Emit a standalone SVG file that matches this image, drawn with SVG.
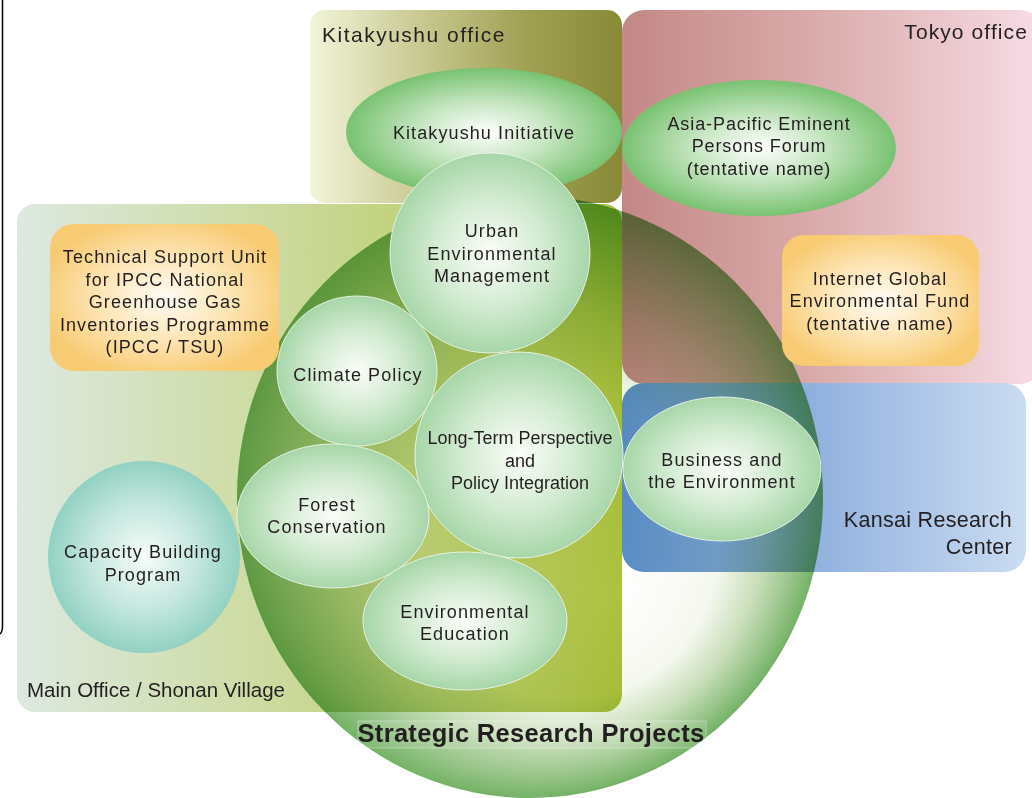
<svg xmlns="http://www.w3.org/2000/svg" width="1032" height="798" viewBox="0 0 1032 798">
<style>
text{font-family:"Liberation Sans",Arial,sans-serif;fill:#231f20}
.t{font-size:18px;letter-spacing:1.1px;text-anchor:middle}
.c{font-size:18px;letter-spacing:0px;text-anchor:middle}
.h{font-size:21px}
.big{mix-blend-mode:multiply}
</style>
<defs>
<linearGradient id="gKit" x1="0" y1="0" x2="1" y2="0">
<stop offset="0" stop-color="#f1f5d9"/><stop offset="0.35" stop-color="#c9c992"/><stop offset="0.7" stop-color="#9fa052"/><stop offset="1" stop-color="#898a37"/>
</linearGradient>
<linearGradient id="gTok" x1="0" y1="0" x2="1" y2="0">
<stop offset="0" stop-color="#c38886"/><stop offset="0.45" stop-color="#d9aaa9"/><stop offset="1" stop-color="#f7dce5"/>
</linearGradient>
<linearGradient id="gKan" x1="0" y1="0" x2="1" y2="0">
<stop offset="0" stop-color="#5a8ec8"/><stop offset="0.5" stop-color="#93b3e0"/><stop offset="1" stop-color="#cadcf1"/>
</linearGradient>
<linearGradient id="gMain" x1="0" y1="0" x2="1" y2="0">
<stop offset="0" stop-color="#dde9e0"/><stop offset="0.4" stop-color="#cddba2"/><stop offset="0.7" stop-color="#bed072"/><stop offset="1" stop-color="#adc23d"/>
</linearGradient>
<radialGradient id="gBig" cx="0.5" cy="0.5" r="0.5" fx="0.64" fy="0.67">
<stop offset="0" stop-color="#ffffff"/><stop offset="0.5" stop-color="#f5f8ef"/><stop offset="0.72" stop-color="#cadfbb"/><stop offset="0.9" stop-color="#95c386"/><stop offset="1" stop-color="#74b266"/>
</radialGradient>
<radialGradient id="gTop" cx="0.5" cy="0.5" r="0.5">
<stop offset="0" stop-color="#ffffff"/><stop offset="0.5" stop-color="#c2e4bd"/><stop offset="1" stop-color="#78c271"/>
</radialGradient>
<radialGradient id="gIn" cx="0.5" cy="0.5" r="0.5">
<stop offset="0" stop-color="#fbfdf9"/><stop offset="0.55" stop-color="#d2ebd1"/><stop offset="1" stop-color="#a7d6a8"/>
</radialGradient>
<radialGradient id="gOr" cx="0.5" cy="0.5" r="0.55">
<stop offset="0" stop-color="#fffdf6"/><stop offset="0.5" stop-color="#fde6b8"/><stop offset="1" stop-color="#f8cb73"/>
</radialGradient>
<radialGradient id="gCap" cx="0.5" cy="0.5" r="0.5">
<stop offset="0" stop-color="#f7fcfa"/><stop offset="0.55" stop-color="#c4e7de"/><stop offset="1" stop-color="#92d1c2"/>
</radialGradient>
</defs>

<path d="M2.5,0 V626 Q2.5,632 0,634" fill="none" stroke="#000" stroke-width="1.5"/>

<g id="kitakyushu-office">
<rect x="310" y="10" width="312" height="193" rx="15" fill="url(#gKit)"/>
<text class="h" x="322" y="42" style="letter-spacing:1.5px">Kitakyushu office</text>
</g>
<g id="tokyo-office">
<rect x="622" y="10" width="420" height="374" rx="22" fill="url(#gTok)"/>
<text class="h" x="1028" y="39" style="letter-spacing:1.1px;text-anchor:end">Tokyo office</text>
</g>
<g id="kansai-center">
<rect x="622" y="383" width="404" height="189" rx="22" fill="url(#gKan)"/>
<text class="h" x="1012" y="527" style="font-size:21.5px;letter-spacing:0.3px;text-anchor:end">Kansai Research</text>
<text class="h" x="1012" y="554" style="font-size:21.5px;letter-spacing:0.3px;text-anchor:end">Center</text>
</g>
<g id="main-office">
<rect x="17" y="204" width="605" height="508" rx="18" fill="url(#gMain)"/>
<text class="h" x="27" y="697" style="font-size:20.5px">Main Office / Shonan Village</text>
</g>

<g id="strategic-research-projects">
<ellipse class="big" cx="530" cy="497" rx="293" ry="301" fill="url(#gBig)"/>
<rect x="358" y="721" width="348" height="27" fill="#ffffff" fill-opacity="0.1" stroke="#ffffff" stroke-opacity="0.35"/>
<text x="531" y="742" style="font-size:25.5px;font-weight:bold;letter-spacing:0.3px;text-anchor:middle">Strategic Research Projects</text>
</g>

<g id="connectors"></g>

<g id="kitakyushu-initiative">
<ellipse cx="484" cy="132" rx="138" ry="64" fill="url(#gTop)"/>
<text class="t" x="484" y="139">Kitakyushu Initiative</text>
</g>
<g id="asia-pacific-forum">
<ellipse cx="759" cy="148" rx="137" ry="68" fill="url(#gTop)"/>
<text class="t" x="759" y="130" style="letter-spacing:0.9px">Asia-Pacific Eminent</text>
<text class="t" x="759" y="152" style="letter-spacing:0.9px">Persons Forum</text>
<text class="t" x="759" y="175" style="letter-spacing:0.9px">(tentative name)</text>
</g>
<g id="internet-fund">
<rect x="782" y="235" width="197" height="131" rx="22" fill="url(#gOr)"/>
<text class="t" x="880" y="285">Internet Global</text>
<text class="t" x="880" y="307">Environmental Fund</text>
<text class="t" x="880" y="330">(tentative name)</text>
</g>
<g id="ipcc-tsu">
<rect x="50" y="224" width="229" height="147" rx="24" fill="url(#gOr)"/>
<text class="t" x="165" y="263">Technical Support Unit</text>
<text class="t" x="165" y="286">for IPCC National</text>
<text class="t" x="165" y="308">Greenhouse Gas</text>
<text class="t" x="165" y="331">Inventories Programme</text>
<text class="t" x="165" y="353">(IPCC / TSU)</text>
</g>
<g id="capacity-building">
<circle cx="144" cy="557" r="96" fill="url(#gCap)"/>
<text class="t" x="143" y="558">Capacity Building</text>
<text class="t" x="143" y="581">Program</text>
</g>
<g id="climate-policy">
<ellipse cx="357" cy="371" rx="80" ry="75" fill="url(#gIn)" stroke="#e6f3e4" stroke-width="1"/>
<text class="t" x="358" y="381">Climate Policy</text>
</g>
<g id="urban-environmental-management">
<circle cx="490" cy="253" r="100" fill="url(#gIn)" stroke="#e6f3e4" stroke-width="1"/>
<text class="t" x="492" y="237">Urban</text>
<text class="t" x="492" y="260">Environmental</text>
<text class="t" x="492" y="282">Management</text>
</g>
<g id="long-term-perspective">
<ellipse cx="519" cy="455" rx="104" ry="103" fill="url(#gIn)" stroke="#e6f3e4" stroke-width="1"/>
<text class="c" x="520" y="444">Long-Term Perspective</text>
<text class="c" x="520" y="467">and</text>
<text class="c" x="520" y="489">Policy Integration</text>
</g>
<g id="forest-conservation">
<ellipse cx="333" cy="516" rx="96" ry="72" fill="url(#gIn)" stroke="#e6f3e4" stroke-width="1"/>
<text class="t" x="327" y="511">Forest</text>
<text class="t" x="327" y="533">Conservation</text>
</g>
<g id="environmental-education">
<ellipse cx="465" cy="621" rx="102" ry="69" fill="url(#gIn)" stroke="#e6f3e4" stroke-width="1"/>
<text class="t" x="465" y="618">Environmental</text>
<text class="t" x="465" y="640">Education</text>
</g>
<g id="business-environment">
<ellipse cx="722" cy="469" rx="99" ry="72" fill="url(#gIn)" stroke="#e6f3e4" stroke-width="1"/>
<text class="t" x="722" y="466">Business and</text>
<text class="t" x="722" y="488">the Environment</text>
</g>
</svg>
